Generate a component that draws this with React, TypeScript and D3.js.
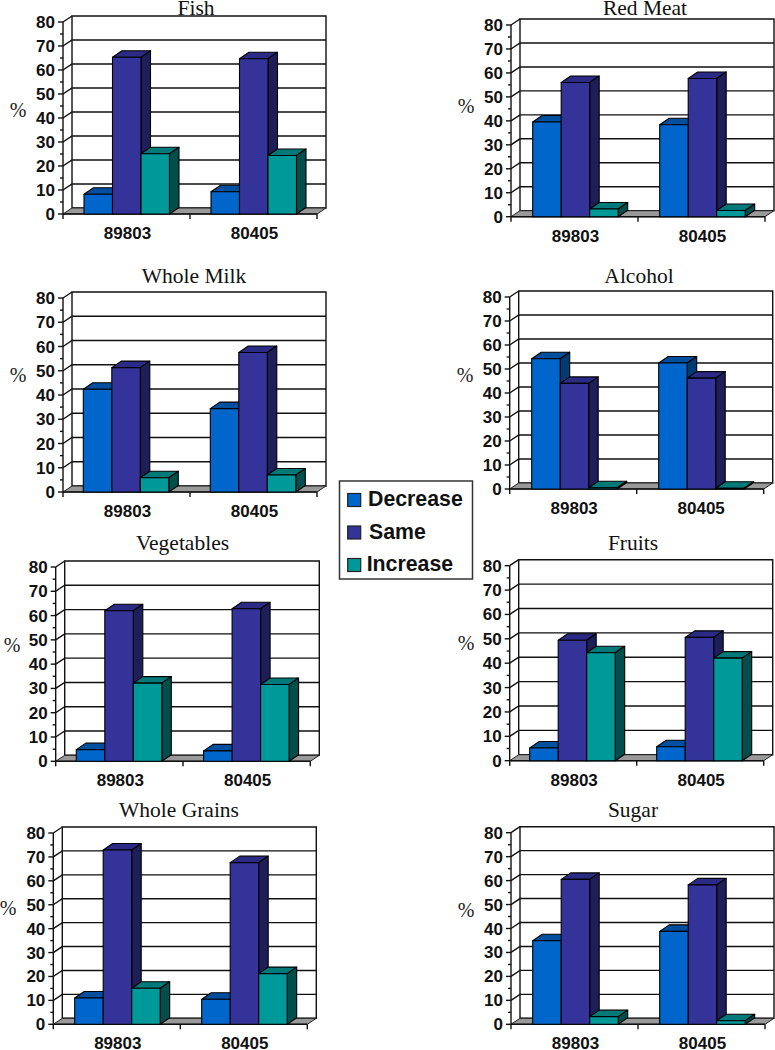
import React from "react";
import * as d3 from "d3";

const sites = ["89803", "80405"];
const seriesNames = ["Decrease", "Same", "Increase"];
const yTicks = [0, 10, 20, 30, 40, 50, 60, 70, 80];
const minorTicks = [5, 15, 25, 35, 45, 55, 65, 75];

const fish = [[8.2, 65.3, 25.1], [9.3, 64.7, 24.4]];
const redMeat = [[39.5, 56, 3.2], [38.4, 57.7, 2.6]];
const wholeMilk = [[42.4, 51.3, 5.9], [34.4, 57.5, 7]];
const alcohol = [[54.3, 44, 0.5], [52.5, 46.2, 0.3]];
const vegetables = [[4.8, 62, 32.2], [4.3, 62.8, 31.6]];
const fruits = [[5.2, 49.4, 44.3], [5.7, 50.6, 42.1]];
const wholeGrains = [[11, 72.9, 15.1], [10.5, 67.6, 21.2]];
const sugar = [[34.9, 60.5, 3.2], [38.8, 58.2, 1.5]];

const front = ["#0066cc", "#333399", "#009999"];
const top = ["#00509f", "#2b2b85", "#007a78"];
const side = ["#003b73", "#1e1e58", "#004f4d"];

const panels = [
  { title: "Fish", data: fish, x0: 63, x1: 317, y0: 214, y1: 22, off: 21, tx: 196, ty: 15, px: 18, py: 116.5 },
  { title: "Red Meat", data: redMeat, x0: 511, x1: 765, y0: 216.7, y1: 25, off: 21.7, tx: 645, ty: 15, px: 466, py: 113 },
  { title: "Whole Milk", data: wholeMilk, x0: 63, x1: 317, y0: 492, y1: 298, off: 20.3, tx: 194, ty: 282.7, px: 18, py: 382 },
  { title: "Alcohol", data: alcohol, x0: 509.7, x1: 763.7, y0: 489, y1: 297, off: 22, tx: 639, ty: 283, px: 465, py: 382 },
  { title: "Vegetables", data: vegetables, x0: 55.7, x1: 310.3, y0: 761.3, y1: 567, off: 20.6, tx: 182.5, ty: 550, px: 12, py: 652 },
  { title: "Fruits", data: fruits, x0: 509.7, x1: 763.7, y0: 760.7, y1: 565.7, off: 20, tx: 633, ty: 550, px: 466, py: 650 },
  { title: "Whole Grains", data: wholeGrains, x0: 53.3, x1: 307.3, y0: 1024.3, y1: 833, off: 21.4, tx: 179, ty: 817, px: 8, py: 915 },
  { title: "Sugar", data: sugar, x0: 511, x1: 765, y0: 1024.3, y1: 832.7, off: 21.7, tx: 633, ty: 817, px: 466, py: 917 },
];

const DX = 9;
const DY = 6;
const BAR_DX = 9.5;
const BAR_DY = 6.5;
const BARS_SPAN = 85.5;
const poly = (pts: number[][]) => pts.map((p) => p.join(",")).join(" ");

function Panel({ p }: { p: (typeof panels)[number] }) {
  const y = d3.scaleLinear().domain([0, 80]).range([p.y0, p.y1]);
  const gx = d3.scaleBand<string>().domain(sites).range([p.x0, p.x1]);
  const g = gx.bandwidth();
  const bx = d3.scaleBand<string>().domain(seriesNames).range([p.off, p.off + BARS_SPAN]);
  const w = bx.bandwidth();
  const ln = { stroke: "#111", strokeWidth: 1.4 };
  return (
    <g>
      <text x={p.tx} y={p.ty} textAnchor="middle" fontFamily="'Liberation Serif'" fontSize={21.5} fill="#111">{p.title}</text>
      <text x={p.px} y={p.py} textAnchor="middle" fontFamily="'Liberation Serif'" fontSize={20} fill="#222">%</text>
      <polygon points={poly([[p.x0 + DX, y(80) - DY], [p.x1 + DX, y(80) - DY], [p.x1 + DX, y(0) - DY], [p.x0 + DX, y(0) - DY]])} fill="#fff" {...ln} />
      {yTicks.slice(1, -1).map((t) => (
        <polyline key={t} points={poly([[p.x0, y(t)], [p.x0 + DX, y(t) - DY], [p.x1 + DX, y(t) - DY]])} fill="none" {...ln} />
      ))}
      <line x1={p.x0} y1={y(80)} x2={p.x0 + DX} y2={y(80) - DY} {...ln} />
      <polygon points={poly([[p.x0, y(0)], [p.x0 + DX, y(0) - DY], [p.x1 + DX, y(0) - DY], [p.x1, y(0)]])} fill="#999" stroke="#222" strokeWidth={1} />
      <line x1={p.x0} y1={y(0)} x2={p.x0} y2={y(80)} {...ln} />
      <line x1={p.x0} y1={y(0)} x2={p.x1} y2={y(0)} {...ln} />
      {yTicks.map((t) => (
        <g key={t}>
          <line x1={p.x0 - 5} x2={p.x0} y1={y(t)} y2={y(t)} {...ln} />
          <text x={p.x0 - 8} y={y(t) + 6} textAnchor="end" fontFamily="'Liberation Sans'" fontWeight="bold" fontSize={17} fill="#111">{t}</text>
        </g>
      ))}
      {minorTicks.map((t) => (
        <line key={t} x1={p.x0 - 3} x2={p.x0} y1={y(t)} y2={y(t)} {...ln} />
      ))}
      {[...sites, "end"].map((s, i) => {
        const tx = p.x0 + i * g;
        return <line key={s} x1={tx} x2={tx} y1={y(0)} y2={y(0) + 5} {...ln} />;
      })}
      {sites.map((s, i) => (
        <g key={s}>
          <text x={(gx(s) as number) + g / 2 + 1} y={y(0) + 25} textAnchor="middle" fontFamily="'Liberation Sans'" fontWeight="bold" fontSize={17} fill="#111">{s}</text>
          {seriesNames.map((n, j) => {
            const v = p.data[i][j];
            const l = (gx(s) as number) + (bx(n) as number);
            const r = l + w;
            const t = y(v);
            const b = y(0);
            return (
              <g key={n} stroke="#000" strokeWidth={1.1} strokeLinejoin="round">
                <polygon points={poly([[l, t], [l + BAR_DX, t - BAR_DY], [r + BAR_DX, t - BAR_DY], [r, t]])} fill={top[j]} />
                <polygon points={poly([[r, t], [r + BAR_DX, t - BAR_DY], [r + BAR_DX, b - BAR_DY], [r, b]])} fill={side[j]} />
                <rect x={l} y={t} width={w} height={b - t} fill={front[j]} />
              </g>
            );
          })}
        </g>
      ))}
    </g>
  );
}

const legendY = d3.scalePoint<string>().domain(seriesNames).range([500, 565]);
const legendTextX = [368, 369, 366.7];

export default function App() {
  return (
    <svg width={775} height={1050} style={{ position: "absolute", left: 0, top: 0, background: "#fff" }}>
      {panels.map((p) => <Panel key={p.title} p={p} />)}
      <rect x={339.5} y={481} width={133} height={98} fill="#fff" stroke="#333" strokeWidth={1.5} />
      {seriesNames.map((n, j) => (
        <g key={n}>
          <rect x={347.7} y={(legendY(n) as number) - 6.5} width={13} height={13} fill={front[j]} stroke="#222" strokeWidth={1.2} />
          <text x={legendTextX[j]} y={(legendY(n) as number) + 6} fontFamily="'Liberation Sans'" fontWeight="bold" fontSize={21.3} fill="#111">{n}</text>
        </g>
      ))}
    </svg>
  );
}
